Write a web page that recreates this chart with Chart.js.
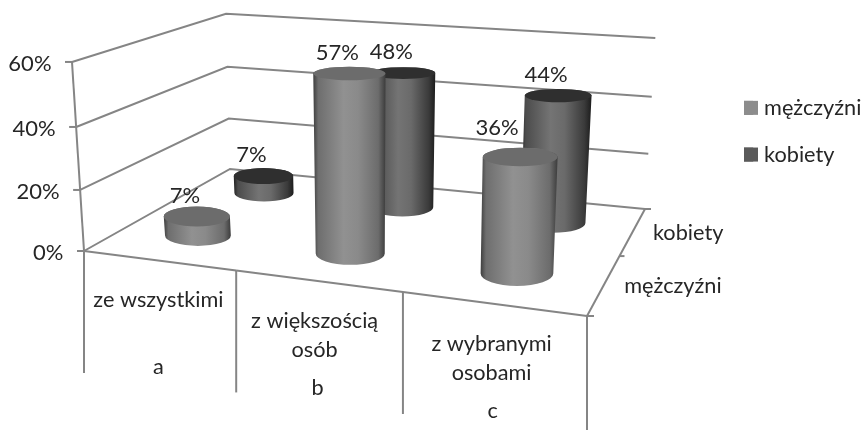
<!DOCTYPE html>
<html lang="pl"><head><meta charset="utf-8">
<style>html,body{margin:0;padding:0;background:#fff;overflow:hidden}canvas{display:block}</style>
<script src="https://cdn.jsdelivr.net/npm/chart.js@4/dist/chart.umd.min.js"></script>
</head><body><canvas id="c" width="862" height="430"></canvas>
<script>
const categories = [["ze wszystkimi"], ["z większością", "osób"], ["z wybranymi", "osobami"]];
const groupLetters = ["a", "b", "c"];
const seriesNames = ["mężczyźni", "kobiety"];
const menValues = [7, 57, 36];
const womenValues = [7, 48, 44];
const yTicks = [0, 20, 40, 60];

const FONT = 'Lato, "Open Sans", sans-serif', FS = 21.7, INK = '#262626', LINE = '#858585';
// projection of the 3D box: floor corners plus the lean of the vertical axis
const P0 = [84, 251], P1 = [587, 316], P2 = [645, 209], P3 = [230, 169];
const den = (P1[0]-P2[0])*(P3[1]-P2[1]) - (P3[0]-P2[0])*(P1[1]-P2[1]);
const sx = P0[0]-P1[0]+P2[0]-P3[0], sy = P0[1]-P1[1]+P2[1]-P3[1];
const G = (sx*(P3[1]-P2[1]) - (P3[0]-P2[0])*sy)/den;
const H = ((P1[0]-P2[0])*sy - sx*(P1[1]-P2[1]))/den;
const AX = P1[0]-P0[0]+G*P1[0], BX = P3[0]-P0[0]+H*P3[0];
const AY = P1[1]-P0[1]+G*P1[1], BY = P3[1]-P0[1]+H*P3[1];
const I = -0.046, CX = -15.3, CY = -191.9, RD = 0.11, RADIUS = 34;
function proj(u, d, t) {
  const w = 1 + G*u + H*d + I*t;
  return { x: (P0[0]+AX*u+BX*d+CX*t)/w - 3.5*t*u*d + 8*u*(1-u)*(1-d), y: (P0[1]+AY*u+BY*d+CY*t)/w + 4.3*t*u*d, w };
}
const SHADES = [
  { stops: ['#3e3e3e','#6e6e6e','#919191','#8a8a8a','#6c6c6c','#3c3c3c'], cap: '#6c6c6c' },
  { stops: ['#222222','#4c4c4c','#747474','#6a6a6a','#3a3a3a','#1c1c1c'], cap: '#2f2f2f' }
];
const STOP_AT = [0, .07, .42, .62, .9, 1];
const LEGEND_COLORS = ['#8c8c8c', '#5a5a5a'];
const uOf = (c, i) => { const x = c.scales.x; return (x.getPixelForValue(i)-x.left)/x.width; };
const tOf = (c, v) => { const y = c.scales.y; return (y.bottom-y.getPixelForValue(v))/(y.bottom-y.top); };
const dOf = s => (s+.5)/seriesNames.length;
function seg(ctx, a, b) { ctx.beginPath(); ctx.moveTo(a.x, a.y); ctx.lineTo(b.x, b.y); ctx.stroke(); }

const box3d = {
  id: 'box3d',
  afterLayout(chart) {
    const l = chart.legend;
    l.left = 719; l.right = 862; l.top = 72; l.bottom = 300;
  },
  beforeDraw(chart) {
    const ys = chart.scales.y;
    ys.getLabelItems().forEach((it, k) => {
      const p = proj(0, 0, tOf(chart, yTicks[k]));
      it.options.translation = [p.x - 20.5, p.y + 1.5];
    });
  },
  beforeDatasetsDraw(chart) {
    const ctx = chart.ctx;
    ctx.save();
    ctx.strokeStyle = LINE; ctx.lineWidth = 2;
    yTicks.forEach(v => {
      const t = tOf(chart, v);
      const a = proj(0,0,t), b = proj(0,1,t), e = proj(1,1,t);
      ctx.beginPath(); ctx.moveTo(a.x,a.y); ctx.lineTo(b.x,b.y); ctx.lineTo(e.x,e.y); ctx.stroke();
      seg(ctx, {x:a.x-7,y:a.y}, a);
    });
    seg(ctx, proj(0,0,0), proj(0,0,1));
    seg(ctx, proj(0,0,0), proj(1/3,0,0));
    seg(ctx, proj(1/3,0,0), proj(2/3,0,0));
    seg(ctx, proj(2/3,0,0), proj(1,0,0));
    seg(ctx, proj(1,0,0), proj(1,1,0));
    const br = proj(1,1,0); seg(ctx, br, {x:br.x+6,y:br.y});
    const mid = proj(1,.5,0); seg(ctx, mid, {x:mid.x+5,y:mid.y});
    const fr = proj(1,0,0); seg(ctx, fr, {x:fr.x+7,y:fr.y});
    for (let k = 0; k <= categories.length; k++) {
      const p = proj(k/categories.length, 0, 0);
      seg(ctx, p, {x:p.x, y:p.y+122});
    }
    // category captions under the front edge
    ctx.fillStyle = INK; ctx.font = FS+'px '+FONT; ctx.textAlign = 'center'; ctx.textBaseline = 'middle';
    const captionNudge = [0, -3, -1];
    categories.forEach((lines, i) => {
      const p = proj(uOf(chart,i), 0, 0);
      lines.forEach((s, n) => ctx.fillText(s, p.x + captionNudge[i], p.y + 40 + n*29.5));
      ctx.fillText(groupLetters[i], p.x, p.y + 107);
    });
    // series captions at the side of the floor
    ctx.textAlign = 'left';
    seriesNames.forEach((s, k) => {
      const p = proj(1, dOf(k), 0);
      ctx.fillText(s, p.x + 20, p.y + 1.5);
    });
    ctx.restore();
  },
  beforeDatasetDraw(chart, args) {
    const ctx = chart.ctx, k = args.index, data = chart.data.datasets[k].data, sh = SHADES[k];
    ctx.save();
    data.forEach((v, i) => {
      const u = uOf(chart,i), d = dOf(k), t = tOf(chart,v);
      const b = proj(u,d,0), a = proj(u,d,t);
      b.x += 3*u*(1-d);
      a.y += 1.5;
      const rb = RADIUS/b.w, ra = RADIUS/a.w;
      const ryb = Math.abs(proj(u,d-RD,0).y - proj(u,d+RD,0).y)/2;
      const rya = Math.abs(proj(u,d-RD,t).y - proj(u,d+RD,t).y)/2;
      const gx0 = Math.min(a.x-ra, b.x-rb), gx1 = Math.max(a.x+ra, b.x+rb);
      const g = ctx.createLinearGradient(gx0, 0, gx1, 0);
      sh.stops.forEach((c, n) => g.addColorStop(STOP_AT[n], c));
      ctx.fillStyle = g;
      ctx.beginPath();
      ctx.moveTo(a.x-ra, a.y);
      ctx.lineTo(b.x-rb, b.y);
      ctx.ellipse(b.x, b.y, rb, ryb, 0, Math.PI, 0, true);
      ctx.lineTo(a.x+ra, a.y);
      ctx.ellipse(a.x, a.y, ra, rya, 0, 0, Math.PI, true);
      ctx.closePath(); ctx.fill();
      ctx.fillStyle = sh.cap;
      ctx.beginPath(); ctx.ellipse(a.x, a.y, ra, rya, 0, 0, Math.PI*2); ctx.fill();
    });
    ctx.restore();
    return false;
  },
  afterDatasetsDraw(chart) {
    const ctx = chart.ctx;
    ctx.save();
    ctx.fillStyle = INK; ctx.font = '22px '+FONT; ctx.textAlign = 'center'; ctx.textBaseline = 'middle';
    chart.data.datasets.forEach((ds, k) => ds.data.forEach((v, i) => {
      const a = proj(uOf(chart,i), dOf(k), tOf(chart,v));
      const moved = (k === 0 && i === 2);
      ctx.fillText(v+'%', a.x + (moved ? -23 : -12), a.y + (moved ? -28 : -19.5));
    }));
    // legend swatches keep the library's placement, drawn a little wider than its box
    chart.legend.legendHitBoxes.forEach((h, k) => {
      ctx.fillStyle = LEGEND_COLORS[k];
      ctx.fillRect(h.left, h.top + (h.height - 14)/2, 14, 14);
    });
    ctx.restore();
  }
};

new Chart(document.getElementById('c'), {
  type: 'bar',
  plugins: [box3d],
  data: {
    labels: categories.map(l => l.join(' ')),
    datasets: [
      { label: seriesNames[0], data: menValues, backgroundColor: LEGEND_COLORS[0] },
      { label: seriesNames[1], data: womenValues, backgroundColor: LEGEND_COLORS[1] }
    ]
  },
  options: {
    responsive: false, animation: false,
    layout: { padding: { top: 62, bottom: 179, left: 0, right: 0 } },
    plugins: {
      tooltip: { enabled: false },
      legend: { display: true, position: 'right', align: 'start',
        labels: { boxWidth: 9.2, boxHeight: 14, padding: 25, color: INK, font: { family: FONT, size: FS } } }
    },
    scales: {
      x: { display: false },
      y: { min: 0, max: 60, afterFit(s) { s.width = 84; },
        afterBuildTicks(s) { s.ticks = yTicks.map(value => ({ value })); },
        grid: { display: false }, border: { display: false },
        ticks: { color: INK, font: { family: FONT, size: 22 }, callback: v => v + '%' } }
    }
  }
});
</script></body></html>
